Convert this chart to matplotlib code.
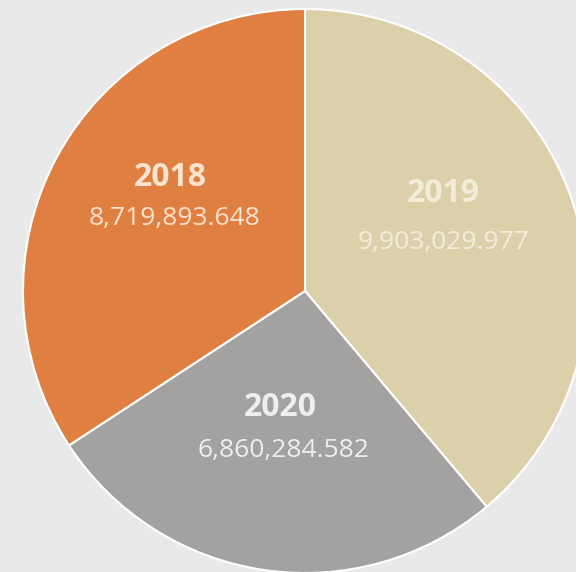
import matplotlib
matplotlib.use("Agg")
import matplotlib.pyplot as plt

years = ["2019", "2020", "2018"]
values = [9903029.977, 6860284.582, 8719893.648]
value_labels = ["9,903,029.977", "6,860,284.582", "8,719,893.648"]
colors = ["#DCD0AA", "#A4A2A0", "#E07F42"]

plt.rcParams['font.family'] = ['Open Sans', 'DejaVu Sans']

fig = plt.figure(figsize=(5.76, 5.72), dpi=100, facecolor="#E9E9E9")
ax = fig.add_axes([0, 0, 1, 1])
ax.set_facecolor("#E9E9E9")

wedges, _ = ax.pie(values, colors=colors, startangle=90, counterclock=False,
                   radius=1.0, center=(0, 0),
                   wedgeprops=dict(edgecolor="white", linewidth=1.5))

s = 282.0
cx, cy = 305, 291
# label positions in pixels -> data units
year_px = [(443, 193), (280, 408), (170, 178)]
val_px = [(443, 242), (283, 450), (174, 219)]
txt_colors = ["#F3ECD8", "#EEEEEE", "#FBE3D0"]
for y, v, yp, vp, tc in zip(years, value_labels, year_px, val_px, txt_colors):
    ax.text((yp[0] - cx) / s, (cy - yp[1]) / s, y, ha="center", va="center",
            fontsize=23, fontweight="bold", color=tc)
    ax.text((vp[0] - cx) / s, (cy - vp[1]) / s, v, ha="center", va="center",
            fontsize=19, color=tc)

ax.set_xlim(-cx / s, (576 - cx) / s)
ax.set_ylim(-(572 - cy) / s, cy / s)
ax.set_aspect("auto")
ax.axis("off")

fig.savefig("out.png", dpi=100, facecolor=fig.get_facecolor())
